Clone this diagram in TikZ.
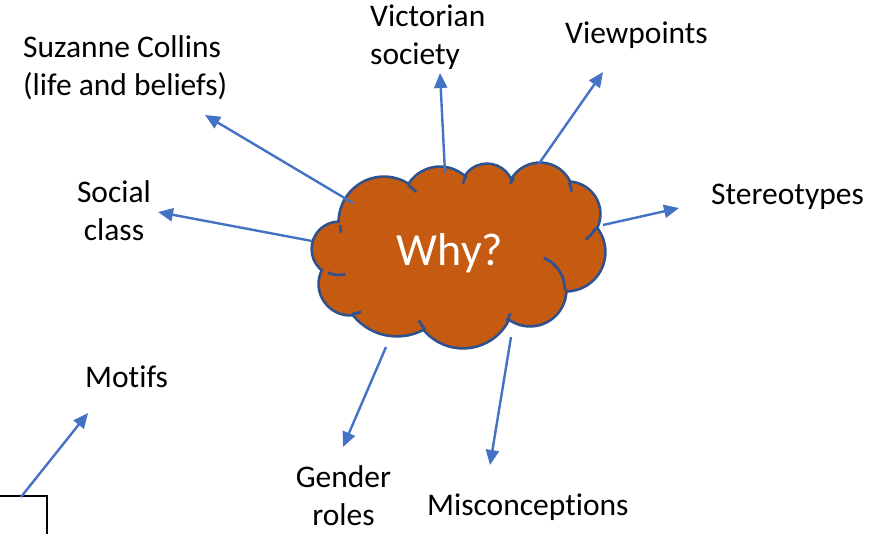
\documentclass[tikz,border=0pt]{standalone}
\usepackage{fontspec}
\setmainfont{Carlito}[Ligatures={NoCommon,NoRare}]
\usetikzlibrary{arrows.meta}
\definecolor{cloudfill}{HTML}{C55A11}
\definecolor{cloudline}{HTML}{2F528F}
\definecolor{arrowblue}{HTML}{4472C4}
\begin{document}
\begin{tikzpicture}[x=1pt,y=-1pt,
  lbl/.style={inner sep=0pt, font=\fontsize{31.5}{37.5}\selectfont, text=black},
  conn/.style={draw=arrowblue, line width=2.4pt, -{Triangle[length=15pt,width=13pt]}},
  hook/.style={draw=cloudline, line width=2.7pt}]
\useasboundingbox (0,0) rectangle (896,533);
\fill[white] (0,0) rectangle (896,533);
% cloud outline (doubled width, then fill)
\foreach \cx/\cy/\r in {384/222/44, 440/204/36, 487/190/25, 540/196/32, 568/214/31, 566/252/38, 530/290/35, 463/297/50, 397/280/55, 350/284/30, 339/249/26}
  \draw[cloudline, line width=5.4pt] (\cx,\cy) circle[radius=\r];
\foreach \cx/\cy/\r in {384/222/44, 440/204/36, 487/190/25, 540/196/32, 568/214/31, 566/252/38, 530/290/35, 463/297/50, 397/280/55, 350/284/30, 339/249/26}
  \fill[cloudfill] (\cx,\cy) circle[radius=\r];
\fill[cloudfill] (384,222) -- (440,204) -- (487,190) -- (540,196) -- (568,214) -- (566,252) -- (530,290) -- (463,297) -- (397,280) -- (350,284) -- (339,249) -- cycle;
% interior hooks
\draw[hook] (384,222) ++(-57:44) arc[start angle=-57, end angle=-43, radius=44];
\draw[hook] (384,222) ++(176:44) arc[start angle=176, end angle=166, radius=44];
\draw[hook] (487,190) ++(-145:25) arc[start angle=-145, end angle=-165, radius=25];
\draw[hook] (540,196) ++(-145:32) arc[start angle=-145, end angle=-158, radius=32];
\draw[hook] (540,196) ++(-25:32) arc[start angle=-25, end angle=-8, radius=32];
\draw[hook] (568,214) ++(27:31) arc[start angle=27, end angle=55, radius=31];
\draw[hook] (530,290) ++(-67:35) arc[start angle=-67, end angle=0, radius=35];
\draw[hook] (463,297) ++(139:50) arc[start angle=139, end angle=152, radius=50];
\draw[hook] (463,297) ++(29:50) arc[start angle=29, end angle=19, radius=50];
\draw[hook] (350,284) ++(86:30) arc[start angle=86, end angle=68, radius=30];
\draw[hook] (339,249) ++(115:26) arc[start angle=115, end angle=76, radius=26];
\node[inner sep=0pt, anchor=base, text=white, font=\fontsize{46}{50}\selectfont] (why) at (450,265) {Why?};
% labels (anchor base = baseline of last line)
\node[lbl, anchor=base west, align=left] (suz) at (23,95) {Suzanne Collins\\(life and beliefs)};
\node[lbl, anchor=base west, align=left] (vic) at (370,64) {Victorian\\society};
\node[lbl, anchor=base west] (view) at (565,43) {Viewpoints};
\node[lbl, anchor=base west] (ster) at (711,204) {Stereotypes};
\node[lbl, anchor=base, align=center] (soc) at (114,240) {Social\\class};
\node[lbl, anchor=base west] (mot) at (85,387) {Motifs};
\node[lbl, anchor=base, align=center] (gen) at (343.5,525) {Gender\\roles};
\node[lbl, anchor=base west] (mis) at (427,515) {Misconceptions};
% frame at bottom left
\node[draw=black, line width=2pt, minimum width=70pt, minimum height=60pt, anchor=north east, inner sep=0pt] (frame) at (48,495) {};
% connector ends
\coordinate (suzT) at (353,203); \coordinate (suzH) at (205,115);
\coordinate (vicT) at (445,173); \coordinate (vicH) at (440,73);
\coordinate (viewT) at (538,165); \coordinate (viewH) at (603,72);
\coordinate (sterT) at (603,225); \coordinate (sterH) at (679,208);
\coordinate (socT) at (312,241); \coordinate (socH) at (158,212);
\coordinate (genT) at (386,347); \coordinate (genH) at (343,447);
\coordinate (misT) at (511,337); \coordinate (misH) at (490,465);
\coordinate (motT) at (21,497); \coordinate (motH) at (88,413);
\draw[conn] (suzT) -- (suzH);
\draw[conn] (vicT) -- (vicH);
\draw[conn] (viewT) -- (viewH);
\draw[conn] (sterT) -- (sterH);
\draw[conn] (socT) -- (socH);
\draw[conn] (genT) -- (genH);
\draw[conn] (misT) -- (misH);
\draw[conn] (motT) -- (motH);
\end{tikzpicture}
\end{document}
